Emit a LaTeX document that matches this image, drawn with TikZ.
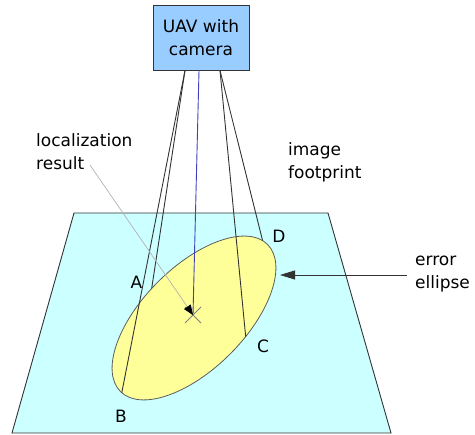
\documentclass[tikz,border=0pt]{standalone}
\usepackage{fontspec}
\setsansfont{DejaVu Sans}
\usetikzlibrary{arrows.meta}
\definecolor{ground}{HTML}{CCFFFF}
\definecolor{errfill}{HTML}{FFFF99}
\definecolor{camfill}{HTML}{99CCFF}
\definecolor{edge}{HTML}{333333}
\definecolor{nadir}{HTML}{4040C0}

\begin{document}
\begin{tikzpicture}[x=1pt,y=-1pt,font=\sffamily\fontsize{17}{23}\selectfont,
  ray/.style={draw=edge,line width=0.9pt},
  txt/.style={inner sep=0pt,anchor=north west,align=left}]
\useasboundingbox (0,0) rectangle (475,435);
% ground plane
\draw[edge,line width=0.9pt,fill=ground] (74,213) -- (328,213) -- (391,433) -- (12,433) -- cycle;
% error ellipse
\draw[edge!80,line width=0.8pt,fill=errfill,rotate around={45:(194,318)}] (194,318) ellipse (104 and 51);
% footprint corners on the rim
\begin{scope}[shift={(194,318)},rotate=45]
\coordinate (A) at (265:104 and 51);
\coordinate (B) at (178:104 and 51);
\coordinate (C) at (77:104 and 51);
\coordinate (D) at (353:104 and 51);
\end{scope}
\coordinate (loc) at (193,315);
\node[draw=edge,line width=0.9pt,fill=camfill,minimum width=96pt,minimum height=65pt,align=center] (cam) at (201,37.5) {UAV with\\camera};
\draw[ray] ([xshift=-16pt]cam.south) -- (A);
\draw[ray] ([xshift=-16pt]cam.south) -- (B);
\draw[ray] ([xshift=19pt]cam.south) -- (C);
\draw[ray] ([xshift=19pt]cam.south) -- (D);
\draw[nadir,line width=0.9pt] ([xshift=-2pt]cam.south) -- (loc);
\draw[gray,line width=0.8pt] ([shift={(-8,-8)}]loc) -- ([shift={(8,8)}]loc);
\draw[gray,line width=0.8pt] ([shift={(-8,8)}]loc) -- ([shift={(8,-8)}]loc);
\node (labA) at (136.5,282) {A};
\node (labB) at (121,416) {B};
\node (labC) at (263,346) {C};
\node (labD) at (279,236) {D};
\node[txt] (loctext) at (36,133) {localization\\result};
\node[txt] (fptext) at (288,142) {image\\footprint};
\node[txt,inner xsep=8pt] (errtext) at (407,256) {error\\ellipse};
\coordinate (locfrom) at (90,165);
\coordinate (errtip) at (280,275);
\draw[gray!60,line width=0.7pt,-{Triangle[length=10pt,width=8pt,color=black]}] (locfrom) -- (loc);
\draw[edge,line width=0.9pt,-{Triangle[length=15pt,width=9pt]}] (errtext.west |- errtip) -- (errtip);
\end{tikzpicture}
\end{document}
